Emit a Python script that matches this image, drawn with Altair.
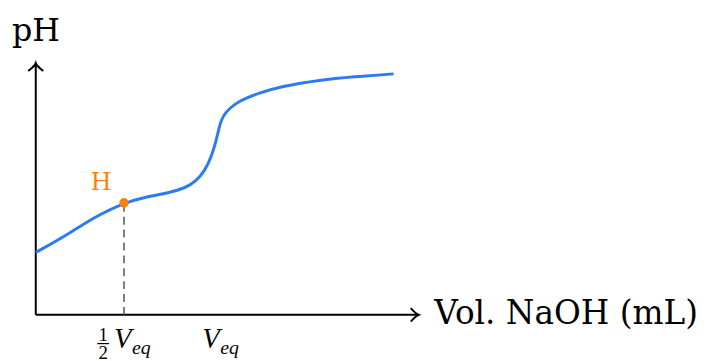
import altair as alt
import pandas as pd

# titration curve (volume in arbitrary mL units, pH)
vol = [0, 1.7, 3.43, 5.0, 6.24, 7.53, 8.48, 9.05, 9.61, 9.94, 10.23, 10.39, 10.51,
       10.73, 11.29, 11.85, 12.58, 13.88, 16.12, 18.03, 20.28]
ph = [3.47, 4.40, 5.50, 6.23, 6.56, 6.78, 7.06, 7.39, 8.05, 8.77, 9.70, 10.42, 10.81,
      11.25, 11.74, 12.02, 12.31, 12.70, 13.07, 13.24, 13.40]

v_half = 5.0
v_eq = 10.0
ph_half = 6.23
x_axis_end = 21.7
y_axis_end = 14.0

x_label = "Vol. NaOH (mL)"
y_label = "pH"
point_label = "H"

W, H = 696, 353
xs = alt.Scale(domain=[-1.573, 37.528], nice=False, zero=False)
ys = alt.Scale(domain=[-2.481, 16.979], nice=False, zero=False)

curve_df = pd.DataFrame({"v": vol, "ph": ph})
axes_df = pd.DataFrame({"x": [0, 0], "x2": [x_axis_end, 0], "y": [0, 0], "y2": [0, y_axis_end]})
half_df = pd.DataFrame({"v": [v_half], "ph": [ph_half], "y0": [0]})
tick_df = pd.DataFrame({"v": [v_half, v_eq], "y": [0, 0]})

SERIF = "DejaVu Serif"
MATH = "Liberation Serif"

axes = alt.Chart(axes_df).mark_rule(color="black", strokeWidth=2).encode(
    x=alt.X("x:Q", scale=xs, axis=None), x2="x2:Q",
    y=alt.Y("y:Q", scale=ys, axis=None), y2="y2:Q")

arrow_right = alt.Chart(pd.DataFrame({"x": [x_axis_end], "y": [0]})).mark_point(
    shape="M-1,-0.85 Q-0.35,-0.12 0,0 Q-0.35,0.12 -1,0.85",
    filled=False, color="black", strokeWidth=2, size=256, opacity=1).encode(
    x=alt.X("x:Q", scale=xs, axis=None), y=alt.Y("y:Q", scale=ys, axis=None))

arrow_up = alt.Chart(pd.DataFrame({"x": [0], "y": [y_axis_end]})).mark_point(
    shape="M-0.95,1 Q-0.12,0.35 0,0 Q0.12,0.35 0.95,1",
    filled=False, color="black", strokeWidth=2, size=256, opacity=1).encode(
    x=alt.X("x:Q", scale=xs, axis=None), y=alt.Y("y:Q", scale=ys, axis=None))

dashed = alt.Chart(half_df).mark_rule(color="#555555", strokeWidth=1.5, strokeDash=[8, 5]).encode(
    x=alt.X("v:Q", scale=xs, axis=None),
    y=alt.Y("y0:Q", scale=ys, axis=None), y2="ph:Q")

curve = alt.Chart(curve_df).mark_line(color="#2b7bf3", strokeWidth=3, interpolate="basis").encode(
    x=alt.X("v:Q", scale=xs, axis=None), y=alt.Y("ph:Q", scale=ys, axis=None))

hpoint = alt.Chart(half_df).mark_circle(color="#f5820d", size=90, opacity=1).encode(
    x=alt.X("v:Q", scale=xs, axis=None), y=alt.Y("ph:Q", scale=ys, axis=None))

hlabel = alt.Chart(half_df).mark_text(
    text=point_label, font=SERIF, fontSize=24, color="#f5820d",
    align="center", baseline="alphabetic", dx=-23, dy=-13).encode(
    x=alt.X("v:Q", scale=xs, axis=None), y=alt.Y("ph:Q", scale=ys, axis=None))

half_only = alt.Chart(half_df)
frac_one = half_only.mark_text(text="1", font=MATH, fontSize=19, align="center",
                               baseline="alphabetic", dx=-21, dy=26).encode(
    x=alt.X("v:Q", scale=xs, axis=None), y=alt.Y("y0:Q", scale=ys, axis=None))
frac_two = half_only.mark_text(text="2", font=MATH, fontSize=19, align="center",
                               baseline="alphabetic", dx=-21, dy=45).encode(
    x=alt.X("v:Q", scale=xs, axis=None), y=alt.Y("y0:Q", scale=ys, axis=None))
frac_bar = half_only.mark_rule(color="black", strokeWidth=1.2, xOffset=-27, x2Offset=-15, yOffset=29).encode(
    x=alt.X("v:Q", scale=xs, axis=None), x2="v:Q",
    y=alt.Y("y0:Q", scale=ys, axis=None))

tick_v = alt.Chart(tick_df).mark_text(text="V", font=MATH, fontStyle="italic", fontSize=29,
                                      align="left", baseline="alphabetic", dx=-10, dy=33).encode(
    x=alt.X("v:Q", scale=xs, axis=None), y=alt.Y("y:Q", scale=ys, axis=None))
tick_eq = alt.Chart(tick_df).mark_text(text="eq", font=MATH, fontStyle="italic", fontSize=20,
                                       align="left", baseline="alphabetic", dx=8, dy=39).encode(
    x=alt.X("v:Q", scale=xs, axis=None), y=alt.Y("y:Q", scale=ys, axis=None))

ylab = alt.Chart(pd.DataFrame({"t": [y_label]})).mark_text(
    font=SERIF, fontSize=32, align="left", baseline="alphabetic", color="black").encode(
    text="t:N", x=alt.value(4), y=alt.value(32))
xlab = alt.Chart(pd.DataFrame({"t": [x_label]})).mark_text(
    font=SERIF, fontSize=33, align="left", baseline="alphabetic", color="black").encode(
    text="t:N", x=alt.value(430), y=alt.value(317))

chart = alt.layer(
    axes, arrow_right, arrow_up, dashed, curve, hpoint, hlabel,
    frac_one, frac_two, frac_bar, tick_v, tick_eq, ylab, xlab
).properties(
    width=W, height=H, padding=0, autosize=alt.AutoSizeParams(type="none")
).configure_view(stroke=None)

chart.save("out.html", embed_options={"renderer": "svg", "actions": False})
